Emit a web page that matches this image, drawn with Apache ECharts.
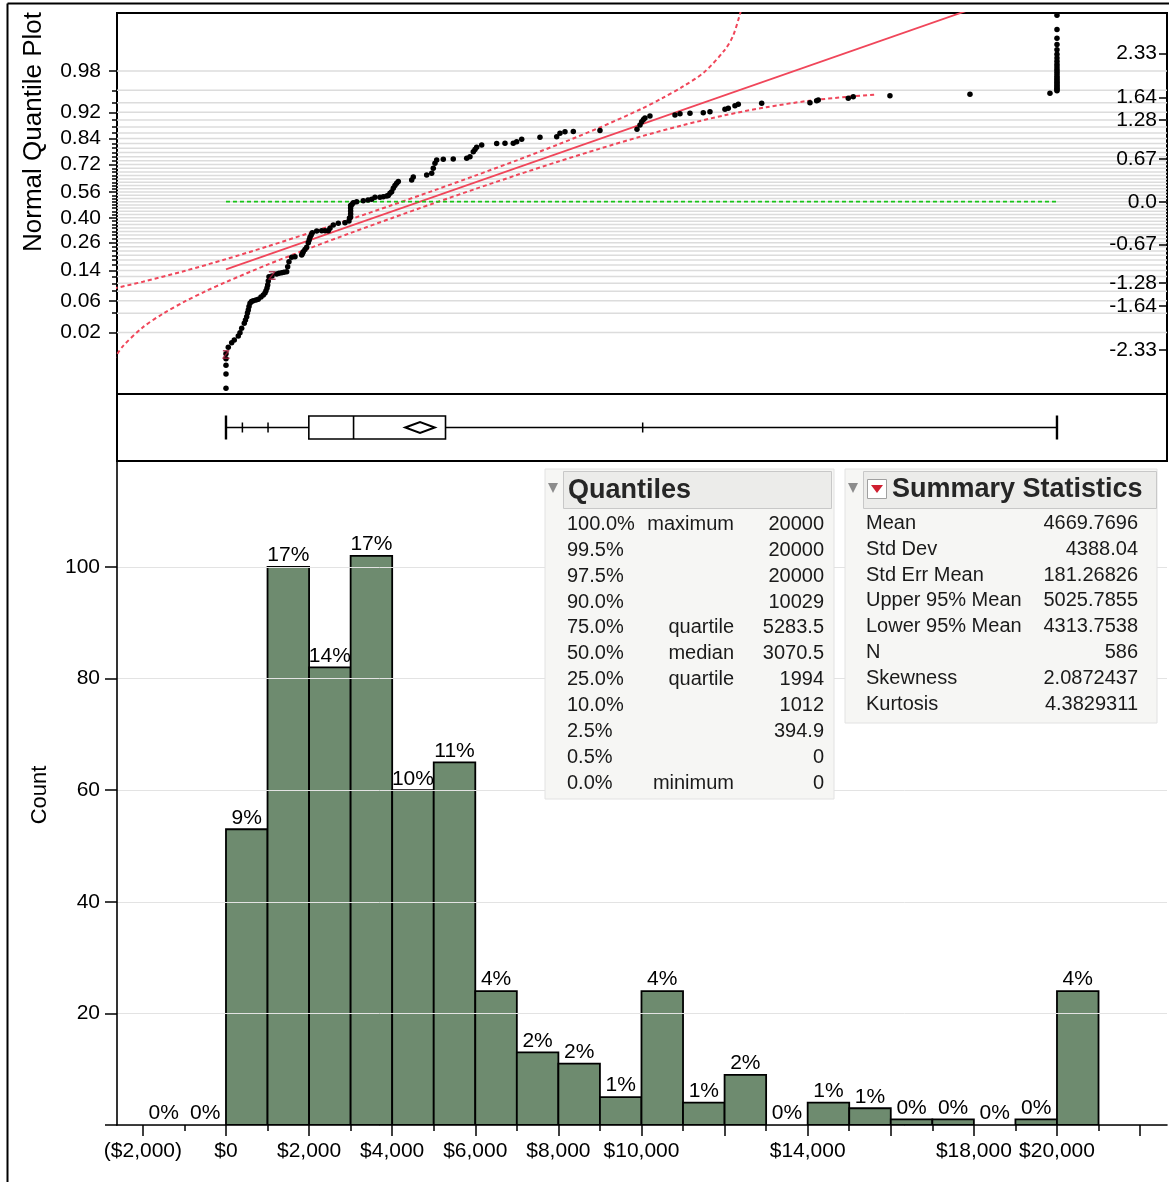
<!DOCTYPE html>
<html><head><meta charset="utf-8">
<script src="https://cdn.jsdelivr.net/npm/echarts@6/dist/echarts.min.js"></script>
<style>html,body{margin:0;padding:0;background:#fff}#c{width:1169px;height:1182px}</style>
</head><body><div id="c"></div>
<script>
const FONT = "'Liberation Sans', Arial, Helvetica, sans-serif";

// ---------- Histogram data ----------
const binStarts = [-2000,-1000,0,1000,2000,3000,4000,5000,6000,7000,8000,9000,10000,11000,12000,13000,14000,15000,16000,17000,18000,19000,20000];
const binWidth = 1000;
const binCounts = [0,0,53,100,82,102,60,65,24,13,11,5,24,4,9,0,4,3,1,1,0,1,24];
const totalN = 586;

const xTickMajor = [-2000,0,2000,4000,6000,8000,10000,12000,14000,16000,18000,20000,22000];
const xTickMinor = [-1000,1000,3000,5000,7000,9000,11000,13000,15000,17000,19000,21000];
const xLabelValues = [-2000,0,2000,4000,6000,8000,10000,14000,18000,20000];
const countTicks = [0,20,40,60,80,100];
const countLabels = [20,40,60,80,100];

// ---------- Normal quantile plot ----------
const zTickValues = [-2.33,-1.64,-1.28,-0.67,0,0.67,1.28,1.64,2.33];
const probLabelValues = [0.02,0.06,0.14,0.26,0.40,0.56,0.72,0.84,0.92,0.98];
const probGridValues = [0.02,0.04,0.06,0.08,0.10,0.12,0.14,0.16,0.18,0.20,0.22,0.24,0.26,0.28,0.30,0.32,0.34,0.36,0.38,0.40,0.42,0.44,0.46,0.48,0.50,0.52,0.54,0.56,0.58,0.60,0.62,0.64,0.66,0.68,0.70,0.72,0.74,0.76,0.78,0.80,0.82,0.84,0.86,0.88,0.90,0.92,0.94,0.96,0.98];

const qqValues = [0,0,0,0,0,55,137,200,296,337,
  378,440,469,498,517,537,554,578,614,657,
  722,777,842,898,939,963,987,1004,1018,1035,
  1107,1220,1276,1341,1396,1461,1485,1516,1581,1661,
  1822,1841,1860,1901,1942,1981,2002,2022,2051,2077,
  2183,2303,2383,2462,2503,2582,2703,2864,2960,2972,
  3000,3000,3000,3000,3000,3032,3064,3146,3304,3418,
  3507,3586,3706,3786,3868,3906,3947,3988,4026,4067,
  4108,4147,4469,4508,4830,4951,4989,5030,5071,5230,
  5470,5793,5872,5952,5993,6033,6154,6515,6715,6914,
  6996,7117,7557,7959,8038,8159,8359,9001,9892,9964,
  10005,10048,10084,10204,10806,10927,11167,11487,11648,12009,
  12089,12250,12330,12893,14055,14216,14255,14977,15097,15980,
  17906,19831,
  20000,20000,20000,20000,20000,20000,20000,20000,20000,20000,20000,20000,
  20000,20000,20000,20000,20000,20000,20000,20000,20000,20000,20000,20000];
const qqZ = [-2.929,-2.705,-2.568,-2.468,-2.386,-2.287,-2.215,-2.172,-2.109,-2.057,
  -1.988,-1.910,-1.858,-1.806,-1.748,-1.701,-1.646,-1.596,-1.567,-1.555,
  -1.544,-1.533,-1.497,-1.465,-1.434,-1.398,-1.355,-1.308,-1.245,-1.178,
  -1.167,-1.136,-1.125,-1.115,-1.107,-1.099,-1.021,-0.942,-0.873,-0.864,
  -0.837,-0.814,-0.785,-0.751,-0.716,-0.644,-0.601,-0.559,-0.523,-0.487,
  -0.460,-0.455,-0.455,-0.455,-0.418,-0.366,-0.339,-0.330,-0.303,-0.256,
  -0.240,-0.193,-0.146,-0.099,-0.060,-0.044,-0.016,0.000,0.016,0.027,
  0.038,0.069,0.069,0.079,0.090,0.097,0.132,0.157,0.210,0.254,
  0.289,0.317,0.341,0.388,0.419,0.446,0.525,0.603,0.655,0.666,
  0.671,0.682,0.707,0.785,0.820,0.854,0.891,0.914,0.917,0.917,
  0.942,0.980,1.011,1.021,1.074,1.099,1.103,1.118,1.137,1.205,
  1.256,1.291,1.314,1.346,1.362,1.382,1.388,1.398,1.414,1.451,
  1.467,1.508,1.530,1.545,1.555,1.586,1.597,1.624,1.649,1.665,
  1.687,1.703,
  1.741,1.760,1.781,1.802,1.824,1.847,1.871,1.896,1.923,1.951,1.980,2.012,
  2.045,2.081,2.120,2.161,2.207,2.259,2.318,2.386,2.468,2.568,2.705,2.929];

const fitLineValues = [0, 20000];
const fitLineZ = [-1.064, 3.494];
const upperBandValues = [-2700,-2000,-1000,0,1000,2000,3000,4000,5000,6000,7000,8000,9000,10000,10500,11000,11500,12000,12200,12350,12430];
const upperBandZ = [-1.362,-1.257,-1.088,-0.902,-0.702,-0.492,-0.275,-0.052,0.176,0.410,0.650,0.901,1.166,1.459,1.626,1.810,2.030,2.380,2.600,2.900,3.090];
const lowerBandValues = [-2700,-2500,-2000,-1500,-1000,-500,0,1000,2000,3000,4000,5000,6000,7000,8000,9000,10000,11000,12000,13000,14000,15000,15600];
const lowerBandZ = [-2.483,-2.283,-1.972,-1.752,-1.570,-1.409,-1.261,-0.988,-0.734,-0.491,-0.255,-0.025,0.200,0.419,0.631,0.834,1.027,1.203,1.357,1.484,1.583,1.651,1.681];
const refLineValues = [0, 20000];
const refLineZ = [0, 0];
const markerValues = [0, 1107];
const markerZ = [-2.41, -1.178];

// ---------- Tables ----------
const quantileLevels = ['100.0%','99.5%','97.5%','90.0%','75.0%','50.0%','25.0%','10.0%','2.5%','0.5%','0.0%'];
const quantileNames = ['maximum','','','','quartile','median','quartile','','','','minimum'];
const quantileValues = [20000,20000,20000,10029,5283.5,3070.5,1994,1012,394.9,0,0];
const summaryNames = ['Mean','Std Dev','Std Err Mean','Upper 95% Mean','Lower 95% Mean','N','Skewness','Kurtosis'];
const summaryValues = ['4669.7696','4388.04','181.26826','5025.7855','4313.7538','586','2.0872437','4.3829311'];

// ---------- helpers ----------
function probit(p){
  const a=[-3.969683028665376e+01,2.209460984245205e+02,-2.759285104469687e+02,1.383577518672690e+02,-3.066479806614716e+01,2.506628277459239e+00];
  const b=[-5.447609879822406e+01,1.615858368580409e+02,-1.556989798598866e+02,6.680131188771972e+01,-1.328068155288572e+01];
  const c=[-7.784894002430293e-03,-3.223964580411365e-01,-2.400758277161838e+00,-2.549732539343734e+00,4.374664141464968e+00,2.938163982698783e+00];
  const d=[7.784695709041462e-03,3.224671290700398e-01,2.445134137142996e+00,3.754408661907416e+00];
  const pl=0.02425; let q,r;
  if(p<pl){q=Math.sqrt(-2*Math.log(p));return (((((c[0]*q+c[1])*q+c[2])*q+c[3])*q+c[4])*q+c[5])/((((d[0]*q+d[1])*q+d[2])*q+d[3])*q+1);}
  if(p<=1-pl){q=p-0.5;r=q*q;return (((((a[0]*r+a[1])*r+a[2])*r+a[3])*r+a[4])*r+a[5])*q/(((((b[0]*r+b[1])*r+b[2])*r+b[3])*r+b[4])*r+1);}
  q=Math.sqrt(-2*Math.log(1-p));return -(((((c[0]*q+c[1])*q+c[2])*q+c[3])*q+c[4])*q+c[5])/((((d[0]*q+d[1])*q+d[2])*q+d[3])*q+1);
}
const zip = (xs, ys) => xs.map((x,i)=>[x, ys[i]]);
const probLabelZ = probLabelValues.map(probit);
const probGridZ = probGridValues.map(probit);
function fmtMoney(v){
  const s = Math.abs(v).toLocaleString('en-US');
  return v < 0 ? '($' + s + ')' : '$' + s;
}

const XMIN = -2623, XMAX = 22648;
const ZMIN = -3.020, ZMAX = 2.964;
const RED = '#f0465a', GREEN = '#19c419', BAR = '#6e8b6f';
const axisLbl = {fontSize:21, color:'#000', fontFamily:FONT};
const blackTick = {color:'#000', width:1.5};

const box = {
  min: quantileValues[10], q025: quantileValues[8], q10: quantileValues[7], q25: quantileValues[6],
  median: quantileValues[5], q75: quantileValues[4], q90: quantileValues[3], max: quantileValues[0],
  mean: parseFloat(summaryValues[0]), hi: parseFloat(summaryValues[3]), lo: parseFloat(summaryValues[4])
};

// ---------- graphics (tables, titles, frame) ----------
const graphics = [];
graphics.push({type:'line', shape:{x1:7.5,y1:3.5,x2:1169,y2:3.5}, style:{stroke:'#000', lineWidth:2}});
graphics.push({type:'line', shape:{x1:7.5,y1:3.5,x2:7.5,y2:1182}, style:{stroke:'#000', lineWidth:2}});
graphics.push({type:'text', x:34, y:132, rotation:Math.PI/2,
  style:{text:'Normal Quantile Plot', font:'26px '+FONT, fill:'#000', align:'center', verticalAlign:'middle', textAlign:'center', textVerticalAlign:'middle'}});
graphics.push({type:'text', x:40, y:795, rotation:Math.PI/2,
  style:{text:'Count', font:'22px '+FONT, fill:'#000', align:'center', verticalAlign:'middle', textAlign:'center', textVerticalAlign:'middle'}});

function txt(x, y, text, align, font, fill){
  return {type:'text', x:x, y:y, z:110, style:{text:text, font:font, fill:fill||'#1a1a1a', align:align, verticalAlign:'middle', textAlign:align, textVerticalAlign:'middle'}};
}
// Quantiles panel
graphics.push({type:'rect', z:100, shape:{x:545,y:469,width:289,height:330}, style:{fill:'#f6f6f4', stroke:'#e2e2e2', lineWidth:1}});
graphics.push({type:'rect', z:101, shape:{x:563.5,y:471.5,width:268,height:37}, style:{fill:'#ececea', stroke:'#c8c8c8', lineWidth:1}});
graphics.push({type:'polygon', z:101, shape:{points:[[548,483],[558,483],[553,493]]}, style:{fill:'#8c8c8c'}});
graphics.push(txt(568, 491, 'Quantiles', 'left', 'bold 27px '+FONT, '#262626'));
quantileLevels.forEach((lv,i)=>{
  const y = 524.5 + i*25.85;
  graphics.push(txt(567, y, lv, 'left', '20px '+FONT));
  if (quantileNames[i]) graphics.push(txt(734, y, quantileNames[i], 'right', '20px '+FONT));
  graphics.push(txt(824, y, String(quantileValues[i]), 'right', '20px '+FONT));
});
// Summary panel
graphics.push({type:'rect', z:100, shape:{x:845,y:469,width:312,height:254}, style:{fill:'#f6f6f4', stroke:'#e2e2e2', lineWidth:1}});
graphics.push({type:'rect', z:101, shape:{x:863.5,y:471.5,width:293,height:37}, style:{fill:'#ececea', stroke:'#c8c8c8', lineWidth:1}});
graphics.push({type:'polygon', z:101, shape:{points:[[848,483],[858,483],[853,493]]}, style:{fill:'#8c8c8c'}});
graphics.push({type:'rect', z:102, shape:{x:867.5,y:479.5,width:19,height:19}, style:{fill:'#fff', stroke:'#a0a0a0', lineWidth:1}});
graphics.push({type:'polygon', z:103, shape:{points:[[871,485],[883,485],[877,493]]}, style:{fill:'#cf1f30'}});
graphics.push(txt(892, 490, 'Summary Statistics', 'left', 'bold 27px '+FONT, '#262626'));
summaryNames.forEach((nm,i)=>{
  const y = 523.5 + i*25.8;
  graphics.push(txt(866, y, nm, 'left', '20px '+FONT));
  graphics.push(txt(1138, y, summaryValues[i], 'right', '20px '+FONT));
});

const chart = echarts.init(document.getElementById('c'), null, {renderer:'canvas'});
chart.setOption({
  animation: false,
  backgroundColor: '#fff',
  textStyle: {fontFamily: FONT},
  grid: [
    {left:117, top:13, width:1050, height:381, show:true, borderColor:'#000', borderWidth:2, backgroundColor:'transparent', outerBoundsMode:'none', containLabel:false},
    {left:117, top:394, width:1050, height:67, show:true, borderColor:'#000', borderWidth:2, backgroundColor:'transparent', outerBoundsMode:'none', containLabel:false},
    {left:117, top:461, width:1050, height:664, show:false, outerBoundsMode:'none', containLabel:false}
  ],
  xAxis: [
    {gridIndex:0, type:'value', min:XMIN, max:XMAX, show:false},
    {gridIndex:1, type:'value', min:XMIN, max:XMAX, show:false},
    {gridIndex:2, type:'value', min:XMIN, max:XMAX, position:'bottom', z:10,
      axisLine:{show:true, onZero:false, lineStyle:{color:'#000', width:1.6}},
      axisTick:{show:true, customValues:xTickMajor, length:11, lineStyle:blackTick},
      axisLabel:Object.assign({show:true, customValues:xLabelValues, formatter:fmtMoney, margin:16}, axisLbl),
      splitLine:{show:false}},
    {gridIndex:2, type:'value', min:XMIN, max:XMAX, position:'bottom', z:10,
      axisLine:{show:false, onZero:false},
      axisTick:{show:true, customValues:xTickMinor, length:6, lineStyle:blackTick},
      axisLabel:{show:false}, splitLine:{show:false}}
  ],
  yAxis: [
    {gridIndex:0, type:'value', min:ZMIN, max:ZMAX, position:'right', z:10,
      axisLine:{show:false, onZero:false},
      axisTick:{show:true, inside:true, length:8, customValues:zTickValues, lineStyle:blackTick},
      axisLabel:Object.assign({show:true, inside:true, margin:10, customValues:zTickValues,
        formatter:v => (Math.abs(v) < 1e-9 ? '0.0' : v.toFixed(2))}, axisLbl),
      splitLine:{show:false}},
    {gridIndex:0, type:'value', min:ZMIN, max:ZMAX, position:'left', z:10,
      axisLine:{show:false, onZero:false},
      axisTick:{show:true, length:5, customValues:probGridZ, lineStyle:blackTick},
      axisLabel:{show:false}, splitLine:{show:false}},
    {gridIndex:0, type:'value', min:ZMIN, max:ZMAX, position:'left', z:10,
      axisLine:{show:false, onZero:false},
      axisTick:{show:true, length:8, customValues:probLabelZ, lineStyle:blackTick},
      axisLabel:Object.assign({show:true, margin:16, customValues:probLabelZ,
        formatter:v => { let k=0, best=1e9; probLabelZ.forEach((z,i)=>{ const d=Math.abs(z-v); if(d<best){best=d;k=i;} }); return probLabelValues[k].toFixed(2); }}, axisLbl),
      splitLine:{show:false}},
    {gridIndex:1, type:'value', min:0, max:1, show:false},
    {gridIndex:2, type:'value', min:0, max:119, position:'left', z:10,
      axisLine:{show:true, onZero:false, lineStyle:{color:'#000', width:1.6}},
      axisTick:{show:true, length:12, customValues:countTicks, lineStyle:blackTick},
      axisLabel:Object.assign({show:true, margin:17, customValues:countLabels}, axisLbl),
      splitLine:{show:true, lineStyle:{color:'#e3e3e3', width:1}}}
  ],
  series: [
    { // probability gridlines
      type:'custom', xAxisIndex:0, yAxisIndex:0, z:0, zlevel:0, silent:true,
      data: probGridZ.map(z => [0, z]),
      renderItem: (params, api) => {
        const p = api.coord([api.value(0), api.value(1)]);
        const cs = params.coordSys;
        return {type:'line', shape:{x1:cs.x, y1:p[1], x2:cs.x+cs.width, y2:p[1]}, style:{stroke:'#dcdcdc', lineWidth:1.5}};
      }
    },
    {type:'line', xAxisIndex:0, yAxisIndex:0, z:3, data:zip(upperBandValues, upperBandZ), showSymbol:false, smooth:0.3, clip:true,
      lineStyle:{color:RED, width:2, type:[4,3]}, silent:true},
    {type:'line', xAxisIndex:0, yAxisIndex:0, z:3, data:zip(lowerBandValues, lowerBandZ), showSymbol:false, smooth:0.3, clip:true,
      lineStyle:{color:RED, width:2, type:[4,3]}, silent:true},
    {type:'line', xAxisIndex:0, yAxisIndex:0, z:3, data:zip(fitLineValues, fitLineZ), showSymbol:false, clip:true,
      lineStyle:{color:RED, width:1.8}, silent:true},
    {type:'line', xAxisIndex:0, yAxisIndex:0, z:3, data:zip(refLineValues, refLineZ), showSymbol:false, clip:true,
      lineStyle:{color:GREEN, width:1.8, type:[4,3]}, silent:true},
    {type:'scatter', xAxisIndex:0, yAxisIndex:0, z:5, data:zip(qqValues, qqZ), symbolSize:5.5,
      itemStyle:{color:'#000', opacity:1}, silent:true},
    {type:'scatter', xAxisIndex:0, yAxisIndex:0, z:6, data:zip(markerValues, markerZ), symbolSize:1,
      itemStyle:{color:'rgba(0,0,0,0)'}, silent:true,
      label:{show:true, position:'inside', formatter:'Z', color:'#a01c3a', fontSize:13, fontWeight:'bold', fontFamily:FONT}},
    { // box plot
      type:'custom', xAxisIndex:1, yAxisIndex:3, z:5, silent:true,
      data:[[box.median, 0.5]],
      renderItem: (params, api) => {
        const cy = api.coord([box.median, 0.5])[1];
        const X = v => api.coord([v, 0.5])[0];
        const st = {stroke:'#000', lineWidth:1.6, fill:null};
        const vline = (v, h, w) => ({type:'line', shape:{x1:X(v), y1:cy-h, x2:X(v), y2:cy+h}, style:{stroke:'#000', lineWidth:w}});
        return {type:'group', children:[
          {type:'line', shape:{x1:X(box.min), y1:cy, x2:X(box.q25), y2:cy}, style:st},
          {type:'line', shape:{x1:X(box.q75), y1:cy, x2:X(box.max), y2:cy}, style:st},
          {type:'rect', shape:{x:X(box.q25), y:cy-11.5, width:X(box.q75)-X(box.q25), height:23}, style:{stroke:'#000', lineWidth:1.6, fill:'rgba(0,0,0,0)'}},
          vline(box.median, 11.5, 1.6),
          vline(box.min, 12, 2.4),
          vline(box.max, 12, 2.4),
          vline(box.q025, 5, 1.5),
          vline(box.q10, 5, 1.5),
          vline(box.q90, 5, 1.5),
          {type:'polygon', shape:{points:[[X(box.lo), cy],[X(box.mean), cy-5.5],[X(box.hi), cy],[X(box.mean), cy+5.5]]},
            style:{stroke:'#000', lineWidth:2, fill:'rgba(0,0,0,0)'}}
        ]};
      }
    },
    { // histogram
      type:'custom', xAxisIndex:2, yAxisIndex:4, z:5, silent:true,
      data: binStarts.map((s,i) => [s, s + binWidth, binCounts[i]]),
      encode:{x:[0,1], y:2},
      renderItem: (params, api) => {
        const lo = api.value(0), hi = api.value(1), c = api.value(2);
        const p1 = api.coord([lo, c]), p2 = api.coord([hi, 0]);
        const pct = Math.round(c / totalN * 100) + '%';
        const children = [];
        if (c > 0) children.push({type:'rect', shape:{x:p1[0], y:p1[1], width:p2[0]-p1[0], height:p2[1]-p1[1]},
          style:{fill:BAR, stroke:'#000', lineWidth:1.8}});
        children.push({type:'text', x:(p1[0]+p2[0])/2, y:p1[1]-1, z2:10,
          style:{text:pct, font:'21px '+FONT, fill:'#000', align:'center', verticalAlign:'bottom', textAlign:'center', textVerticalAlign:'bottom'}});
        return {type:'group', children:children};
      }
    }
  ],
  graphic: graphics
});
</script>
</body></html>
